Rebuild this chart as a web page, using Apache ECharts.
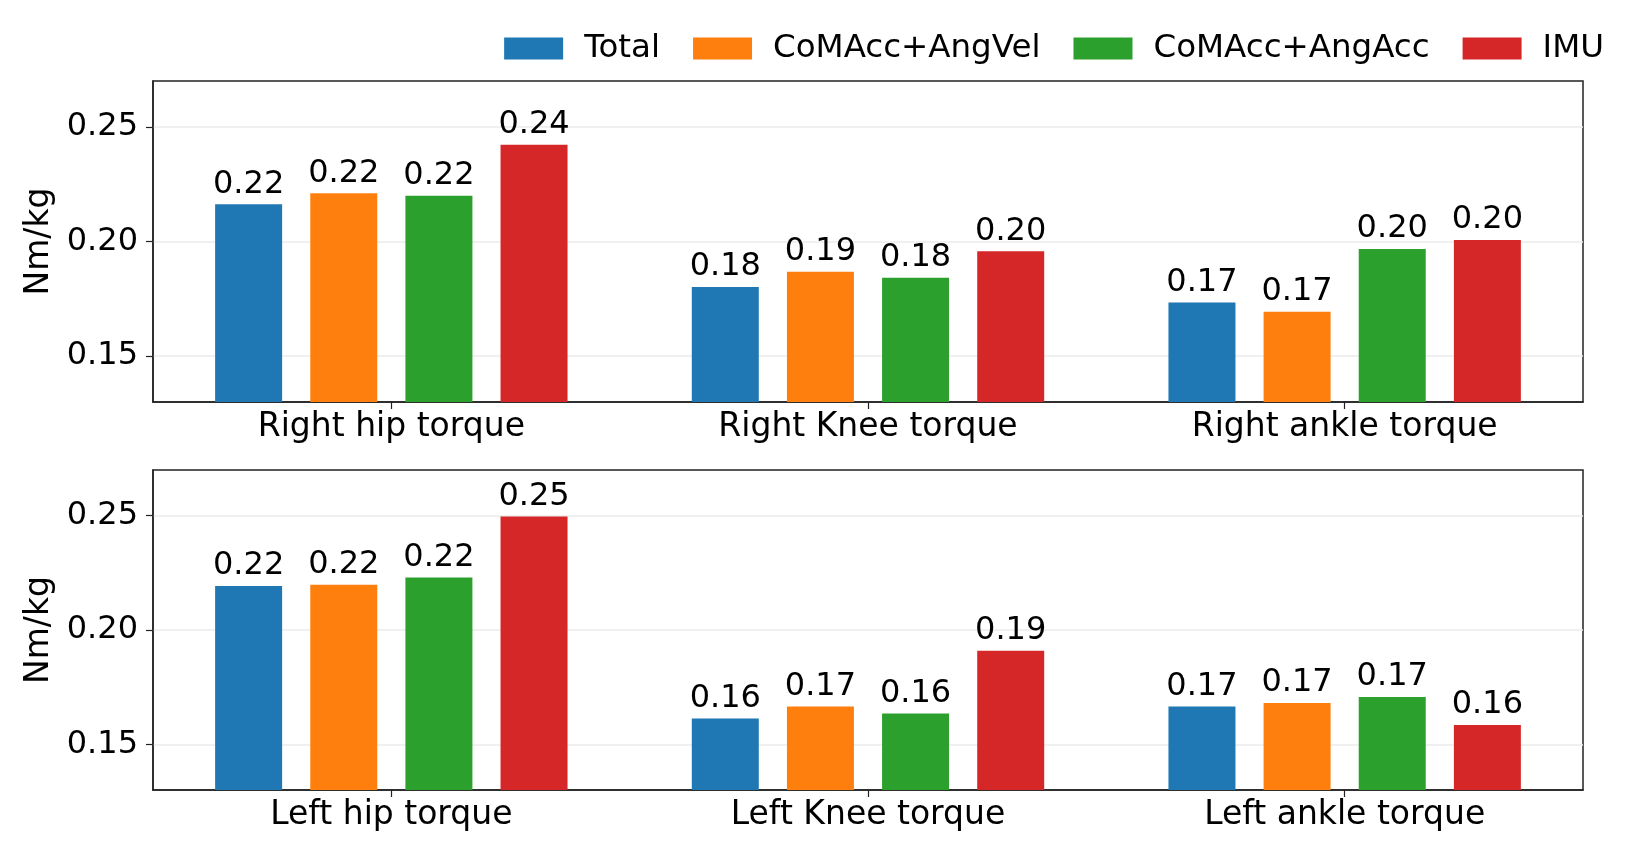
<!DOCTYPE html>
<html>
<head>
<meta charset="utf-8">
<script src="https://cdn.jsdelivr.net/npm/echarts@6/dist/echarts.min.js"></script>
<style>
  html, body { margin: 0; padding: 0; background: #fff; }
  #chart { width: 1634px; height: 866px; }
</style>
</head>
<body>
<div id="chart"></div>
<script>
// categories for each panel
const topJoints = ['Right hip torque', 'Right Knee torque', 'Right ankle torque'];
const bottomJoints = ['Left hip torque', 'Left Knee torque', 'Left ankle torque'];

// series values (Nm/kg)
const totalTop = [0.2162, 0.1802, 0.1734];
const angVelTop = [0.2210, 0.1868, 0.1694];
const angAccTop = [0.2199, 0.1842, 0.1967];
const imuTop = [0.2422, 0.1957, 0.2007];

const totalBottom = [0.2193, 0.1613, 0.1665];
const angVelBottom = [0.2198, 0.1665, 0.1681];
const angAccBottom = [0.2230, 0.1635, 0.1707];
const imuBottom = [0.2497, 0.1909, 0.1584];

const seriesNames = ['Total', 'CoMAcc+AngVel', 'CoMAcc+AngAcc', 'IMU'];
const colors = ['#1f77b4', '#ff7f0e', '#2ca02c', '#d62728'];
const yTicks = [0.15, 0.20, 0.25];

const FONT = 'DejaVu Sans';

const chart = echarts.init(document.getElementById('chart'), null, { renderer: 'canvas' });

function makeX(idx, cats) {
  return {
    type: 'category',
    gridIndex: idx,
    data: cats,
    axisLine: { show: true, lineStyle: { color: '#222', width: 1.5 } },
    axisTick: { show: true, alignWithLabel: true, length: 7, lineStyle: { color: '#222', width: 1.2 } },
    axisLabel: { color: '#000', fontFamily: FONT, fontSize: 33, margin: 9 },
    splitLine: { show: false }
  };
}

function makeY(idx) {
  return {
    type: 'value',
    gridIndex: idx,
    min: 0.13,
    max: 0.27,
    name: 'Nm/kg',
    nameLocation: 'middle',
    nameRotate: 90,
    nameGap: 86,
    nameTextStyle: { color: '#000', fontFamily: FONT, fontSize: 33 },
    axisLine: { show: true, lineStyle: { color: '#222', width: 1.5 } },
    axisTick: { show: true, length: 7, customValues: yTicks, lineStyle: { color: '#222', width: 1.2 } },
    axisLabel: {
      color: '#000', fontFamily: FONT, fontSize: 32, margin: 15,
      customValues: yTicks,
      formatter: v => v.toFixed(2)
    },
    splitLine: { show: true, customValues: yTicks, lineStyle: { color: '#ebebeb', width: 1.5 } }
  };
}

function makeBars(idx, lists) {
  return lists.map((vals, i) => ({
    name: seriesNames[i],
    type: 'bar',
    xAxisIndex: idx,
    yAxisIndex: idx,
    data: vals,
    barWidth: 67,
    barGap: '42%',
    itemStyle: { color: colors[i] },
    label: {
      show: true,
      position: 'top',
      distance: 4,
      color: '#000',
      fontFamily: FONT,
      fontSize: 32,
      formatter: p => p.value.toFixed(2)
    }
  }));
}

const option = {
  animation: false,
  backgroundColor: '#fff',
  color: colors,
  legend: {
    data: seriesNames,
    right: 25,
    top: 27,
    icon: 'rect',
    itemWidth: 59,
    itemHeight: 22,
    itemGap: 33,
    textStyle: { color: '#000', fontFamily: FONT, fontSize: 32.5, padding: [0, 0, 0, 16] }
  },
  grid: [
    { left: 153, right: 51, top: 81, height: 321, show: true, borderColor: '#222', borderWidth: 1.5, backgroundColor: 'transparent' },
    { left: 153, right: 51, top: 470, height: 320, show: true, borderColor: '#222', borderWidth: 1.5, backgroundColor: 'transparent' }
  ],
  xAxis: [makeX(0, topJoints), makeX(1, bottomJoints)],
  yAxis: [makeY(0), makeY(1)],
  series: [
    ...makeBars(0, [totalTop, angVelTop, angAccTop, imuTop]),
    ...makeBars(1, [totalBottom, angVelBottom, angAccBottom, imuBottom])
  ]
};

chart.setOption(option);
</script>
</body>
</html>
